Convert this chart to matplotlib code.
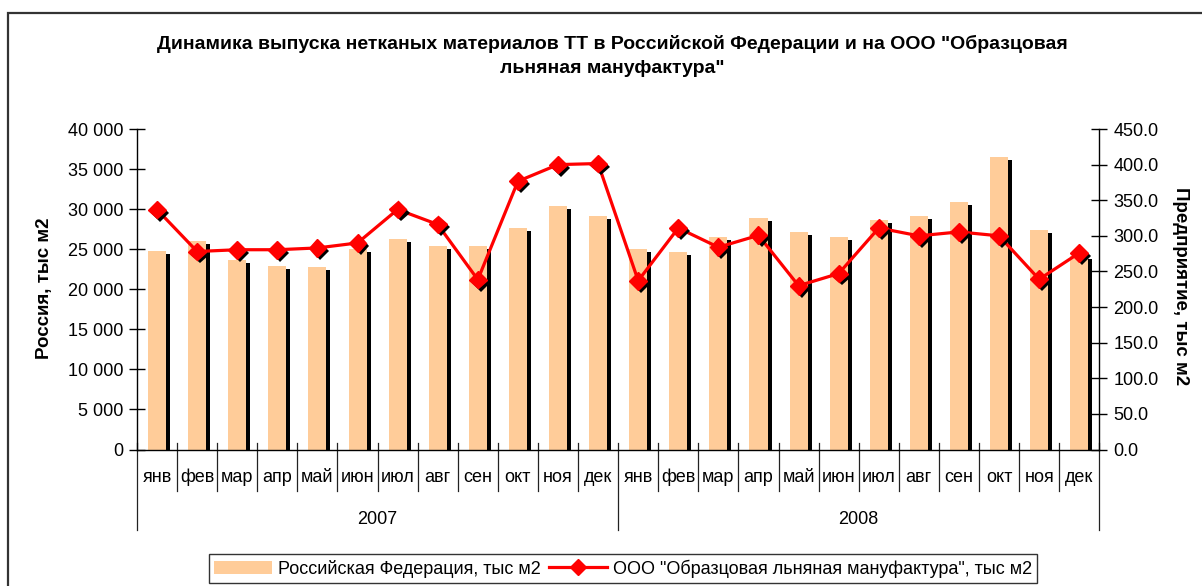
import numpy as np
import matplotlib
matplotlib.use("Agg")
import matplotlib.pyplot as plt
import matplotlib.patheffects as pe
from matplotlib.patches import Rectangle, Patch
from matplotlib.lines import Line2D
from matplotlib.ticker import FuncFormatter

plt.rcParams['font.family'] = ['Liberation Sans', 'DejaVu Sans']

months = ["янв", "фев", "мар", "апр", "май", "июн", "июл", "авг", "сен", "окт", "ноя", "дек"]
years = ["2007", "2008"]
russia = [24800, 26050, 23700, 22900, 22800, 25000, 26300, 25350, 25350, 27600, 30350, 29200,
          25000, 24600, 26500, 28900, 27200, 26500, 28700, 29100, 30900, 36500, 27400, 24200]
company = [336.8, 278, 280.5, 280.5, 283, 290, 337, 316, 238.5, 376.6, 400, 401.5,
           237, 311, 284, 300.7, 230, 247, 311, 300, 305.5, 300, 239, 276]
title = ('Динамика выпуска нетканых материалов ТТ в Российской Федерации и на ООО "Образцовая\n'
         'льняная мануфактура"')
left_label = "Россия, тыс м2"
right_label = "Предприятие, тыс м2"
bar_name = "Российская Федерация, тыс м2"
line_name = 'ООО "Образцовая льняная мануфактура", тыс м2'

W, H = 1202, 586
fig = plt.figure(figsize=(W / 100, H / 100), dpi=100)

# outer frame
fig.patches.append(Rectangle((8 / W, -0.1), 1.2, 1 - 13 / H + 0.1, transform=fig.transFigure,
                             fill=False, edgecolor='#333333', linewidth=1.6))

ax_l, ax_r, ax_b, ax_t = 137, 1099.3, 449.5, 129
ax = fig.add_axes([ax_l / W, 1 - ax_b / H, (ax_r - ax_l) / W, (ax_b - ax_t) / H])
ax2 = ax.twinx()

n = len(russia)
x = np.arange(n)
fs = 13

ax.bar(x, russia, width=0.45, color='#FFCC99', zorder=2,
       path_effects=[pe.SimplePatchShadow(offset=(2.9, -2.2), shadow_rgbFace='black', alpha=1.0),
                     pe.Normal()])
ax.set_xlim(-0.5, n - 0.5)
ax.set_ylim(0, 40000)
ax.set_yticks(np.arange(0, 40001, 5000))
ax.yaxis.set_major_formatter(FuncFormatter(lambda v, p: f"{int(v):,}".replace(",", " ")))
ax.tick_params(axis='y', direction='inout', length=12, width=1, labelsize=fs, pad=4)
ax.set_xticks([])

ax2.plot(x, company, color='#FF0000', linewidth=2.3, zorder=3)
ax2.plot(x, company, linestyle='none', marker='D', markersize=9, color='#FF0000',
         markeredgecolor='#FF0000', zorder=4,
         path_effects=[pe.SimplePatchShadow(offset=(2.2, -2.2), shadow_rgbFace='black', alpha=1.0),
                       pe.Normal()])
ax2.set_ylim(0, 450)
ax2.set_yticks(np.arange(0, 451, 50))
ax2.yaxis.set_major_formatter(FuncFormatter(lambda v, p: f"{v:.1f}"))
ax2.tick_params(axis='y', direction='inout', length=12, width=1, labelsize=fs, pad=4)

for a in (ax, ax2):
    a.spines['top'].set_visible(False)
    a.patch.set_visible(False)
ax.spines['right'].set_visible(False)
ax2.spines['left'].set_visible(False)
ax2.spines['bottom'].set_visible(False)
for s in ('left', 'bottom'):
    ax.spines[s].set_linewidth(1)
ax2.spines['right'].set_linewidth(1)

# multi-level category axis
hpx = ax_b - ax_t
to_ax = lambda py: (ax_b - py) / hpx
tr = ax.get_xaxis_transform()
for b in np.arange(-0.5, n, 1):
    k = int(b + 0.5)
    bottom = 530 if k % 12 == 0 else 491
    ax.plot([b, b], [to_ax(443), to_ax(bottom)], transform=tr, color='#222222',
            linewidth=0.9, clip_on=False)
for i in range(n):
    ax.text(x[i], to_ax(477), months[i % 12], transform=tr, ha='center', va='center',
            fontsize=fs, clip_on=False)
for j, yr in enumerate(years):
    ax.text(j * 12 + 5.5, to_ax(520), yr, transform=tr, ha='center', va='center',
            fontsize=fs, clip_on=False)

fig.text(612 / W, 1 - 56 / H, title, ha='center', va='center', fontsize=14,
         fontweight='bold', linespacing=1.55)
fig.text(45 / W, 1 - 288 / H, left_label, rotation=90, ha='center', va='center',
         fontsize=13.5, fontweight='bold')
fig.text(1181 / W, 1 - 286 / H, right_label, rotation=270, ha='center', va='center',
         fontsize=13.5, fontweight='bold')

handles = [Patch(facecolor='#FFCC99', edgecolor='none'),
           Line2D([], [], color='#FF0000', linewidth=2.3, marker='D', markersize=8)]
leg = fig.legend(handles, [bar_name, line_name], loc='upper left',
                 bbox_to_anchor=(209 / W, 1 - 554 / H), ncol=2, frameon=True,
                 fancybox=False, edgecolor='black', fontsize=fs, handlelength=3.2,
                 handletextpad=0.3, columnspacing=0.5, borderpad=0.3, borderaxespad=0)
leg.get_frame().set_linewidth(1)

fig.savefig("out.png", dpi=100)
